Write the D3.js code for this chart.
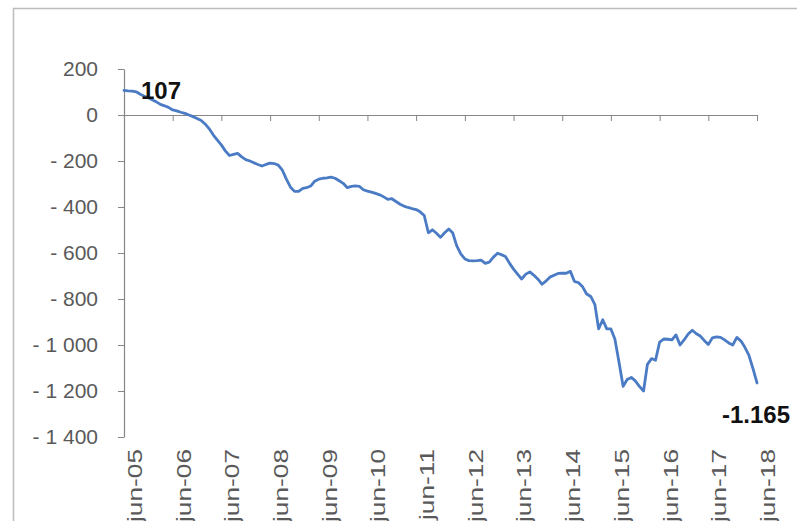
<!DOCTYPE html>
<html>
<head>
<meta charset="utf-8">
<script src="https://cdn.jsdelivr.net/npm/d3@7"></script>
<style>
  html, body { margin: 0; padding: 0; background: #fff; }
  svg { display: block; font-family: "Liberation Sans", Arial, sans-serif; }
</style>
</head>
<body>
<div id="chart"></div>
<script>
// monthly values, jun-05 .. jun-18
const startMonth = "2005-06";
const values = [
  107, 105, 104, 101, 90, 81, 75, 65, 56, 46, 40, 33,
  22, 18, 12, 7, 0, -7, -15, -24, -40, -59, -86, -108,
  -130, -156, -176, -171, -167, -182, -194, -200, -208, -215, -222, -215,
  -209, -211, -218, -240, -279, -314, -332, -332, -319, -316, -309, -288,
  -279, -275, -273, -270, -275, -286, -297, -316, -310, -308, -310, -325,
  -331, -335, -341, -347, -356, -367, -364, -376, -388, -396, -402, -407,
  -411, -421, -437, -512, -499, -514, -532, -512, -496, -512, -569, -604,
  -626, -633, -634, -633, -631, -645, -640, -618, -601, -607, -615, -644,
  -670, -692, -713, -692, -682, -697, -714, -736, -721, -705, -697, -689,
  -688, -688, -680, -724, -729, -747, -778, -789, -824, -930, -890, -930,
  -930, -974, -1075, -1180, -1150, -1141, -1156, -1180, -1200, -1084, -1059, -1066,
  -987, -974, -975, -978, -956, -1000, -978, -952, -936, -950, -961, -980,
  -998, -969, -965, -967, -978, -991, -1000, -967, -983, -1009, -1044, -1101,
  -1165
];
const xTickLabels = ["jun-05", "jun-06", "jun-07", "jun-08", "jun-09", "jun-10", "jun-11",
  "jun-12", "jun-13", "jun-14", "jun-15", "jun-16", "jun-17", "jun-18"];
const yTicks = [200, 0, -200, -400, -600, -800, -1000, -1200, -1400];
const firstLabel = "107";
const lastLabel = "-1.165";

const width = 797, height = 521;
const svg = d3.select("#chart").append("svg").attr("width", width).attr("height", height);

// outer chart frame (runs off the right/bottom edges)
svg.append("rect").attr("x", 13.5).attr("y", 8.5).attr("width", 900).attr("height", 700)
  .attr("fill", "#fff").attr("stroke", "#bcbcbc").attr("stroke-width", 1.5);

const t0 = d3.timeParse("%Y-%m")(startMonth);
const series = values.map((v, i) => ({ date: d3.timeMonth.offset(t0, i), value: v }));
const tickDates = xTickLabels.map((_, i) => d3.timeYear.offset(t0, i));

const x = d3.scaleTime().domain([t0, series[series.length - 1].date]).range([124, 757]);
const y = d3.scaleLinear().domain([-1400, 200]).range([437, 69]);

const loc = d3.formatLocale({ decimal: ",", thousands: " ", grouping: [3], currency: ["", ""] });
const fmt = loc.format(",d");
const yFmt = v => v < 0 ? "- " + fmt(-v) : fmt(v);

// y axis
const yAxis = svg.append("g").attr("transform", `translate(${x.range()[0]},0)`)
  .call(d3.axisLeft(y).tickValues(yTicks).tickFormat(yFmt).tickSize(6).tickSizeOuter(0).tickPadding(20));
yAxis.select(".domain").attr("stroke", "#868686").attr("stroke-width", 1.2);
yAxis.selectAll(".tick line").attr("stroke", "#868686");
yAxis.selectAll(".tick text").attr("fill", "#595959").attr("font-size", 21)
  .attr("font-family", "Liberation Sans, Arial, sans-serif");

// x axis on zero line
const xAxis = svg.append("g").attr("transform", `translate(0,${y(0)})`)
  .call(d3.axisBottom(x).tickValues(tickDates).tickFormat("").tickSize(6).tickSizeOuter(0));
xAxis.select(".domain").attr("stroke", "#868686").attr("stroke-width", 1.2);
xAxis.selectAll(".tick line").attr("stroke", "#868686");

// x labels at the bottom, rotated (slightly stretched along their length, as in the source)
svg.append("g").selectAll("text").data(tickDates).join("text")
  .attr("transform", d => `translate(${x(d)},449) rotate(-90) scale(1.25,1)`)
  .attr("text-anchor", "end")
  .attr("dy", "0.85em")
  .attr("fill", "#595959").attr("font-size", 21)
  .text((d, i) => xTickLabels[i]);

// line
const line = d3.line().x(d => x(d.date)).y(d => y(d.value));
svg.append("path").datum(series).attr("d", line)
  .attr("fill", "none").attr("stroke", "#4a7bc4").attr("stroke-width", 2.8)
  .attr("stroke-linejoin", "round").attr("stroke-linecap", "round");

// data labels
const first = series[0], last = series[series.length - 1];
svg.append("text").attr("x", x(first.date) + 17).attr("y", y(first.value) + 9)
  .attr("font-size", 24).attr("font-weight", "bold").attr("fill", "#111").text(firstLabel);
svg.append("text").attr("x", x(last.date) - 35).attr("y", y(last.value) + 40)
  .attr("font-size", 24).attr("font-weight", "bold").attr("fill", "#111").text(lastLabel);
</script>
</body>
</html>
